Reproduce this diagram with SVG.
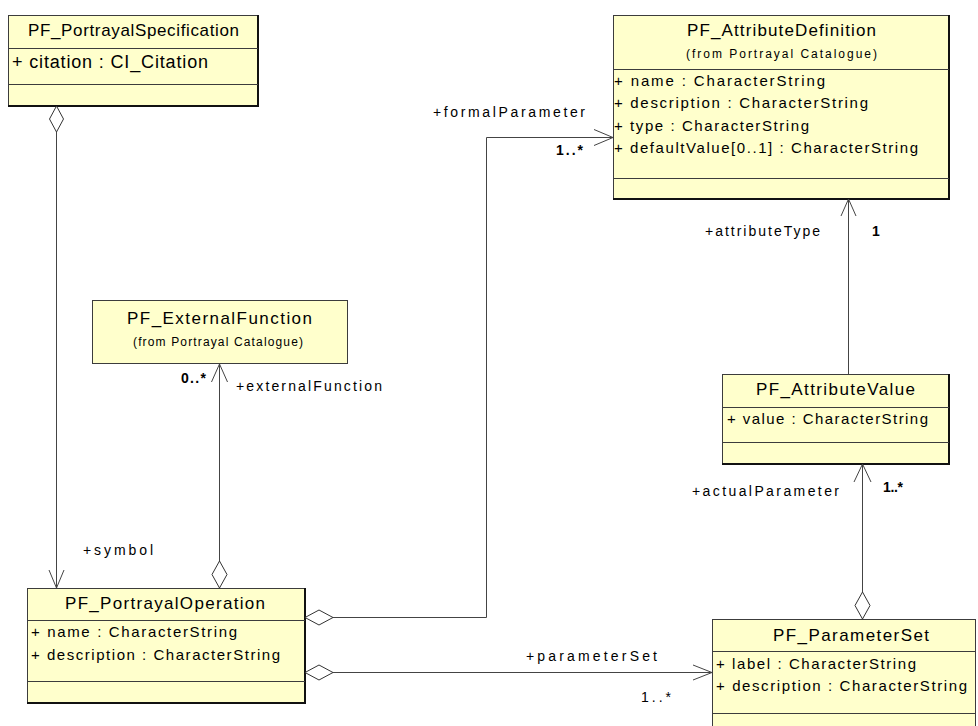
<svg xmlns="http://www.w3.org/2000/svg" width="978" height="726" viewBox="0 0 978 726">
<style>
.bg{fill:#ffffff}
.box{fill:#ffffcc;stroke:#3c3c3c;stroke-width:1}
.sh{stroke:#111;stroke-width:2;fill:none}
.dv{stroke:#3c3c3c;stroke-width:1}
.t{font-family:"Liberation Sans",Arial,sans-serif;fill:#000}
.ti{font-size:17px}
.sub{font-size:12px}
.at{font-size:15px}
.lb{font-size:14px}
.mb{font-size:14px;font-weight:bold}
.c{stroke:#444;stroke-width:1;fill:none}
.d{fill:#ffffff;stroke:#333;stroke-width:1}
</style>
<rect class="bg" x="0" y="0" width="978" height="726"/>

<g id="PF_PortrayalSpecification">
<rect class="box" x="8.5" y="15.5" width="249" height="90"/>
<path class="sh" d="M8 106 H258 V15"/>
<line class="dv" x1="8" y1="48.5" x2="258" y2="48.5"/>
<line class="dv" x1="8" y1="84.5" x2="258" y2="84.5"/>
<text class="t ti" x="28" y="36" textLength="211" lengthAdjust="spacing">PF_PortrayalSpecification</text>
<text class="t" style="font-size:18px" x="12" y="68" textLength="196" lengthAdjust="spacing">+ citation : CI_Citation</text>
</g>

<g id="PF_AttributeDefinition">
<rect class="box" x="613.5" y="15.5" width="335" height="183"/>
<path class="sh" d="M613 199 H949 V15"/>
<line class="dv" x1="613" y1="69.5" x2="949" y2="69.5"/>
<line class="dv" x1="613" y1="178.5" x2="949" y2="178.5"/>
<text class="t ti" x="687" y="36" textLength="189" lengthAdjust="spacing">PF_AttributeDefinition</text>
<text class="t sub" x="686" y="58" textLength="191" lengthAdjust="spacing">(from Portrayal  Catalogue)</text>
<text class="t at" x="614" y="86" textLength="211" lengthAdjust="spacing">+ name : CharacterString</text>
<text class="t at" x="614" y="108" textLength="254" lengthAdjust="spacing">+ description : CharacterString</text>
<text class="t at" x="614" y="131" textLength="195" lengthAdjust="spacing">+ type : CharacterString</text>
<text class="t at" x="614" y="153" textLength="304" lengthAdjust="spacing">+ defaultValue[0..1] : CharacterString</text>
</g>

<g id="PF_ExternalFunction">
<rect class="box" x="92.5" y="300.5" width="255" height="63"/>
<text class="t ti" x="127" y="324" textLength="185" lengthAdjust="spacing">PF_ExternalFunction</text>
<text class="t sub" x="133" y="346" textLength="170" lengthAdjust="spacing">(from Portrayal  Catalogue)</text>
</g>

<g id="PF_AttributeValue">
<rect class="box" x="722.5" y="374.5" width="226" height="89"/>
<path class="sh" d="M722 464 H949 V374"/>
<line class="dv" x1="722" y1="407.5" x2="949" y2="407.5"/>
<line class="dv" x1="722" y1="442.5" x2="949" y2="442.5"/>
<text class="t ti" x="756" y="395" textLength="159" lengthAdjust="spacing">PF_AttributeValue</text>
<text class="t at" x="727" y="424" textLength="201" lengthAdjust="spacing">+ value : CharacterString</text>
</g>

<g id="PF_PortrayalOperation">
<rect class="box" x="27.5" y="588.5" width="277" height="114"/>
<path class="sh" d="M27 703 H305 V588"/>
<line class="dv" x1="27" y1="620.5" x2="305" y2="620.5"/>
<line class="dv" x1="27" y1="681.5" x2="305" y2="681.5"/>
<text class="t ti" x="65" y="609" textLength="200" lengthAdjust="spacing">PF_PortrayalOperation</text>
<text class="t at" x="31" y="637" textLength="206" lengthAdjust="spacing">+ name : CharacterString</text>
<text class="t at" x="31" y="660" textLength="249" lengthAdjust="spacing">+ description : CharacterString</text>
</g>

<g id="PF_ParameterSet">
<rect class="box" x="712.5" y="619.5" width="263" height="120"/>
<line class="dv" x1="712" y1="651.5" x2="976" y2="651.5"/>
<line class="dv" x1="712" y1="713.5" x2="976" y2="713.5"/>
<text class="t ti" x="773" y="641" textLength="156" lengthAdjust="spacing">PF_ParameterSet</text>
<text class="t at" x="716" y="669" textLength="200" lengthAdjust="spacing">+ label : CharacterString</text>
<text class="t at" x="716" y="691" textLength="251" lengthAdjust="spacing">+ description : CharacterString</text>
</g>

<g id="connectors">
<line class="c" x1="56.5" y1="132" x2="56.5" y2="588"/>
<path class="d" d="M56.5 106 L63.5 119 L56.5 132 L49.5 119 Z"/>
<path class="c" d="M49 570 L56.5 588 L64 570"/>
<text class="t lb" x="83" y="555" textLength="70" lengthAdjust="spacing">+symbol</text>

<line class="c" x1="219.5" y1="364" x2="219.5" y2="561"/>
<path class="d" d="M219.5 561 L227 574.5 L219.5 588 L212 574.5 Z"/>
<path class="c" d="M211.5 382 L219.5 364 L227.5 382"/>
<text class="t mb" x="181" y="383" textLength="25" lengthAdjust="spacing">0..*</text>
<text class="t lb" x="236" y="391" textLength="146" lengthAdjust="spacing">+externalFunction</text>

<path class="c" d="M333 617.5 H486.5 V137.5 H613"/>
<path class="d" d="M305 617.5 L319 610 L333 617.5 L319 625 Z"/>
<path class="c" d="M594 129.5 L613 137.5 L594 145.5"/>
<text class="t lb" x="433" y="117" textLength="152" lengthAdjust="spacing">+formalParameter</text>
<text class="t mb" x="556" y="155" textLength="27" lengthAdjust="spacing">1..*</text>

<line class="c" x1="333" y1="672.5" x2="712" y2="672.5"/>
<path class="d" d="M305 672.5 L319 665 L333 672.5 L319 680 Z"/>
<path class="c" d="M693 665 L712 672.5 L693 680"/>
<text class="t lb" x="526" y="661" textLength="131" lengthAdjust="spacing">+parameterSet</text>
<text class="t lb" x="641" y="702" textLength="30" lengthAdjust="spacing">1..*</text>

<line class="c" x1="862.5" y1="464" x2="862.5" y2="592"/>
<path class="d" d="M862.5 592 L870 605.5 L862.5 619 L855 605.5 Z"/>
<path class="c" d="M854 482 L862.5 464 L871 482"/>
<text class="t lb" x="692" y="496" textLength="147" lengthAdjust="spacing">+actualParameter</text>
<text class="t mb" x="883" y="492" textLength="20" lengthAdjust="spacing">1..*</text>

<line class="c" x1="848.5" y1="199" x2="848.5" y2="374"/>
<path class="c" d="M841 216 L848.5 199 L856 216"/>
<text class="t lb" x="705" y="236" textLength="115" lengthAdjust="spacing">+attributeType</text>
<text class="t mb" x="872" y="236">1</text>
</g>
</svg>
